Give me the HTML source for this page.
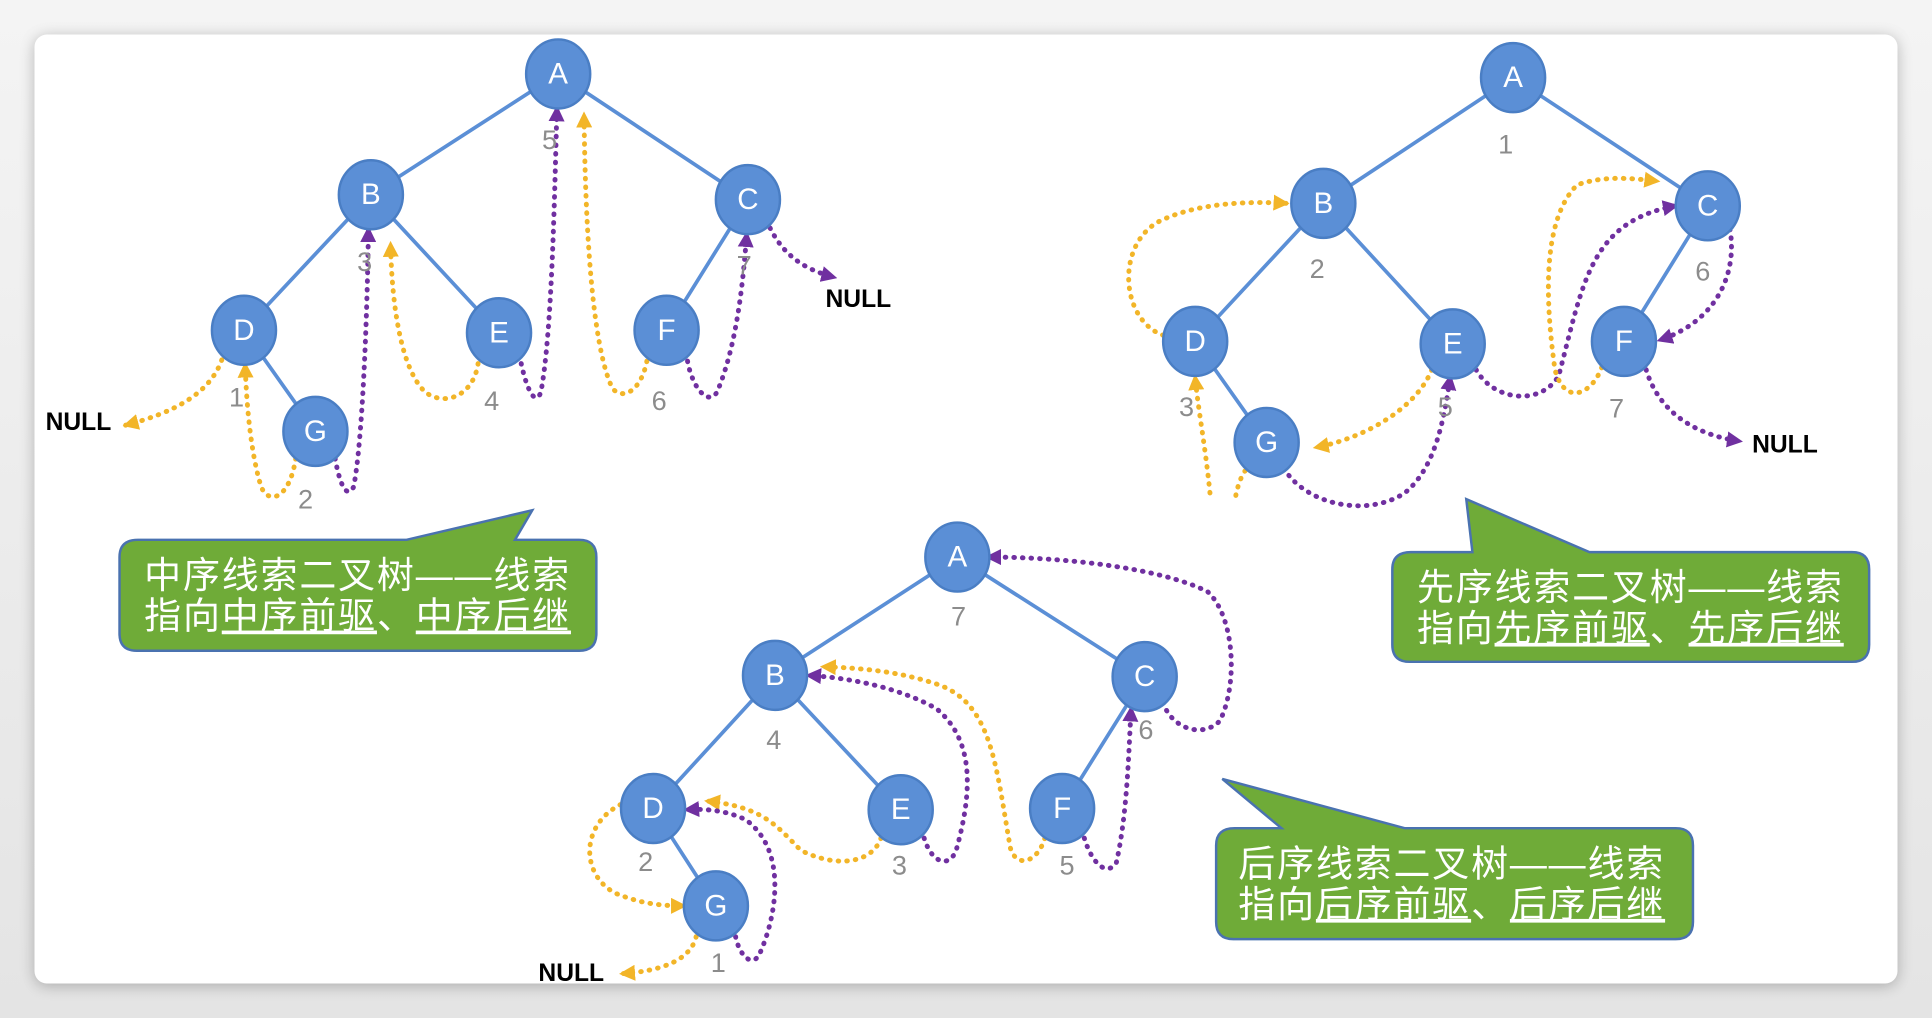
<!DOCTYPE html>
<html><head><meta charset="utf-8"><style>
html,body{margin:0;padding:0;width:1932px;height:1018px;overflow:hidden;background:#e9e9e9}
svg{display:block}
</style></head><body>
<svg width="1932" height="1018" viewBox="0 0 1568 826" preserveAspectRatio="none" xmlns="http://www.w3.org/2000/svg">
<defs>
<linearGradient id="bg" x1="0" y1="0" x2="0" y2="1"><stop offset="0" stop-color="#f4f4f4"/><stop offset="1" stop-color="#e4e4e4"/></linearGradient>
<filter id="sh" x="-5%" y="-5%" width="110%" height="110%"><feGaussianBlur stdDeviation="6"/></filter>
<marker id="ay" viewBox="0 0 10 10" refX="8" refY="5" markerWidth="13" markerHeight="13" markerUnits="userSpaceOnUse" orient="auto"><path d="M0,0L10,5L0,10z" fill="#f2b528"/></marker>
<marker id="ap" viewBox="0 0 10 10" refX="8" refY="5" markerWidth="13" markerHeight="13" markerUnits="userSpaceOnUse" orient="auto"><path d="M0,0L10,5L0,10z" fill="#7030a0"/></marker>
</defs>
<rect width="1568" height="826" fill="url(#bg)"/>
<rect x="28" y="30" width="1512" height="770" rx="10" fill="#000" opacity="0.25" filter="url(#sh)"/>
<rect x="28" y="28" width="1512" height="770" rx="10" fill="#fff"/>

<g stroke="#5b8fd6" stroke-width="3" fill="none">
<path d="M453,60L301,158M453,60L607,162M301,158L198,268M301,158L405,270M607,162L541,268M198,268L256,350"/>
<path d="M1228,63L1074,165M1228,63L1386,167M1074,165L970,277M1074,165L1179,279M1386,167L1318,277M970,277L1028,359"/>
<path d="M777,452L629,548M777,452L929,549M629,548L530,656M629,548L731,657M929,549L862,656M530,656L581,735"/>
</g>

<g fill="none" stroke-width="4" stroke-linecap="round" stroke-dasharray="0.5 6.5">
<path stroke="#f2b528" marker-end="url(#ay)" d="M180,292 C170,320 140,335 102,345"/>
<path stroke="#f2b528" marker-end="url(#ay)" d="M240,372 C235,405 218,410 212,395 C204,370 200,330 199,296"/>
<path stroke="#7030a0" marker-end="url(#ap)" d="M272,372 C276,395 282,405 287,395 C294,360 298,260 299,186"/>
<path stroke="#f2b528" marker-end="url(#ay)" d="M388,295 C384,322 360,330 345,318 C326,300 318,250 317,198"/>
<path stroke="#7030a0" marker-end="url(#ap)" d="M423,295 C428,318 435,330 439,318 C448,270 450,160 452,88"/>
<path stroke="#f2b528" marker-end="url(#ay)" d="M525,293 C520,318 505,325 497,315 C480,280 475,180 474,93"/>
<path stroke="#7030a0" marker-end="url(#ap)" d="M558,293 C562,315 575,330 582,318 C598,280 603,230 606,190"/>
<path stroke="#7030a0" marker-end="url(#ap)" d="M625,185 C635,205 650,218 677,225"/>
<path stroke="#f2b528" marker-end="url(#ay)" d="M944,272 C910,260 905,200 940,180 C970,165 1010,163 1044,165"/>
<path stroke="#f2b528" marker-end="url(#ay)" d="M982,400 C978,360 972,330 970,306"/>
<path stroke="#f2b528" d="M1003,402 C1005,392 1008,385 1012,380"/>
<path stroke="#f2b528" marker-end="url(#ay)" d="M1162,300 C1150,330 1110,355 1068,363"/>
<path stroke="#7030a0" marker-end="url(#ap)" d="M1042,380 C1060,410 1110,420 1140,400 C1165,380 1172,340 1177,306"/>
<path stroke="#7030a0" marker-end="url(#ap)" d="M1198,300 C1212,325 1250,330 1265,305 C1285,230 1290,180 1360,167"/>
<path stroke="#f2b528" marker-end="url(#ay)" d="M1300,298 C1292,320 1270,330 1262,300 C1255,250 1250,180 1280,150 C1300,143 1320,144 1345,147"/>
<path stroke="#7030a0" marker-end="url(#ap)" d="M1404,186 C1410,220 1395,260 1347,276"/>
<path stroke="#7030a0" marker-end="url(#ap)" d="M1336,300 C1345,330 1370,352 1412,358"/>
<path stroke="#7030a0" marker-end="url(#ap)" d="M944,570 C950,590 975,600 990,585 C1005,555 1002,500 980,480 C940,460 860,452 802,452"/>
<path stroke="#7030a0" marker-end="url(#ap)" d="M880,680 C886,700 898,712 906,700 C915,660 916,610 918,575"/>
<path stroke="#f2b528" marker-end="url(#ay)" d="M848,680 C842,700 825,705 820,688 C808,620 805,570 760,555 C730,545 700,542 668,541"/>
<path stroke="#7030a0" marker-end="url(#ap)" d="M750,680 C756,700 770,705 776,690 C790,640 790,600 760,575 C730,558 690,550 656,548"/>
<path stroke="#f2b528" marker-end="url(#ay)" d="M715,680 C708,700 680,705 650,690 C630,670 620,655 574,650"/>
<path stroke="#f2b528" marker-end="url(#ay)" d="M510,650 C470,665 470,710 500,725 C520,733 535,735 555,735"/>
<path stroke="#7030a0" marker-end="url(#ap)" d="M597,760 C600,775 610,785 616,775 C630,745 640,690 605,665 C590,658 575,656 557,657"/>
<path stroke="#f2b528" marker-end="url(#ay)" d="M565,760 C560,780 535,788 505,790"/>
</g>

<g fill="#5b8fd6" stroke="#4a7ec4" stroke-width="2">
<ellipse cx="453" cy="60" rx="26" ry="28"/><ellipse cx="301" cy="158" rx="26" ry="28"/><ellipse cx="607" cy="162" rx="26" ry="28"/><ellipse cx="198" cy="268" rx="26" ry="28"/><ellipse cx="405" cy="270" rx="26" ry="28"/><ellipse cx="541" cy="268" rx="26" ry="28"/><ellipse cx="256" cy="350" rx="26" ry="28"/>
<ellipse cx="1228" cy="63" rx="26" ry="28"/><ellipse cx="1074" cy="165" rx="26" ry="28"/><ellipse cx="1386" cy="167" rx="26" ry="28"/><ellipse cx="970" cy="277" rx="26" ry="28"/><ellipse cx="1179" cy="279" rx="26" ry="28"/><ellipse cx="1318" cy="277" rx="26" ry="28"/><ellipse cx="1028" cy="359" rx="26" ry="28"/>
<ellipse cx="777" cy="452" rx="26" ry="28"/><ellipse cx="629" cy="548" rx="26" ry="28"/><ellipse cx="929" cy="549" rx="26" ry="28"/><ellipse cx="530" cy="656" rx="26" ry="28"/><ellipse cx="731" cy="657" rx="26" ry="28"/><ellipse cx="862" cy="656" rx="26" ry="28"/><ellipse cx="581" cy="735" rx="26" ry="28"/>
</g>
<g fill="#fff" font-family="Liberation Sans, sans-serif" font-size="24" text-anchor="middle" dominant-baseline="central">
<text x="453" y="60">A</text><text x="301" y="158">B</text><text x="607" y="162">C</text><text x="198" y="268">D</text><text x="405" y="270">E</text><text x="541" y="268">F</text><text x="256" y="350">G</text>
<text x="1228" y="63">A</text><text x="1074" y="165">B</text><text x="1386" y="167">C</text><text x="970" y="277">D</text><text x="1179" y="279">E</text><text x="1318" y="277">F</text><text x="1028" y="359">G</text>
<text x="777" y="452">A</text><text x="629" y="548">B</text><text x="929" y="549">C</text><text x="530" y="656">D</text><text x="731" y="657">E</text><text x="862" y="656">F</text><text x="581" y="735">G</text>
</g>
<g fill="#8c8c8c" font-family="Liberation Sans, sans-serif" font-size="22" text-anchor="middle" dominant-baseline="central">
<text x="446" y="113">5</text><text x="296" y="212">3</text><text x="604" y="215">7</text><text x="192" y="322">1</text><text x="399" y="325">4</text><text x="535" y="325">6</text><text x="248" y="405">2</text>
<text x="1222" y="117">1</text><text x="1069" y="218">2</text><text x="1382" y="220">6</text><text x="963" y="330">3</text><text x="1173" y="330">5</text><text x="1312" y="331">7</text>
<text x="778" y="500">7</text><text x="628" y="600">4</text><text x="930" y="592">6</text><text x="524" y="699">2</text><text x="730" y="702">3</text><text x="866" y="702">5</text><text x="583" y="781">1</text>
</g>
<g fill="#000" font-family="Liberation Sans, sans-serif" font-size="20" font-weight="bold" dominant-baseline="central">
<text x="37" y="343">NULL</text><text x="670" y="243">NULL</text><text x="1422" y="361">NULL</text><text x="437" y="790">NULL</text>
</g>

<g fill="#6fab38" stroke="#4a72b0" stroke-width="2">
<path d="M112,438 L330,438 L432,414 L418,438 L470,438 Q484,438 484,452 L484,514 Q484,528 470,528 L111,528 Q97,528 97,514 L97,452 Q97,438 112,438 Z"/>
<path d="M1145,448 L1195,448 L1190,405 L1290,448 L1503,448 Q1517,448 1517,462 L1517,523 Q1517,537 1503,537 L1144,537 Q1130,537 1130,523 L1130,462 Q1130,448 1145,448 Z"/>
<path d="M1002,672 L1040,672 L992,632 L1140,672 L1360,672 Q1374,672 1374,686 L1374,748 Q1374,762 1360,762 L1001,762 Q987,762 987,748 L987,686 Q987,672 1002,672 Z"/>
</g>
<g fill="#fff" font-family="Liberation Sans, 'Noto Sans CJK SC', sans-serif" font-size="30" letter-spacing="1.5">
<text x="117" y="477">中序线索二叉树——线索</text>
<text x="117" y="510">指向<tspan text-decoration="underline">中序前驱</tspan>、<tspan text-decoration="underline">中序后继</tspan></text>
<text x="1150" y="487">先序线索二叉树——线索</text>
<text x="1150" y="520">指向<tspan text-decoration="underline">先序前驱</tspan>、<tspan text-decoration="underline">先序后继</tspan></text>
<text x="1005" y="711">后序线索二叉树——线索</text>
<text x="1005" y="744">指向<tspan text-decoration="underline">后序前驱</tspan>、<tspan text-decoration="underline">后序后继</tspan></text>
</g>
</svg>
</body></html>
